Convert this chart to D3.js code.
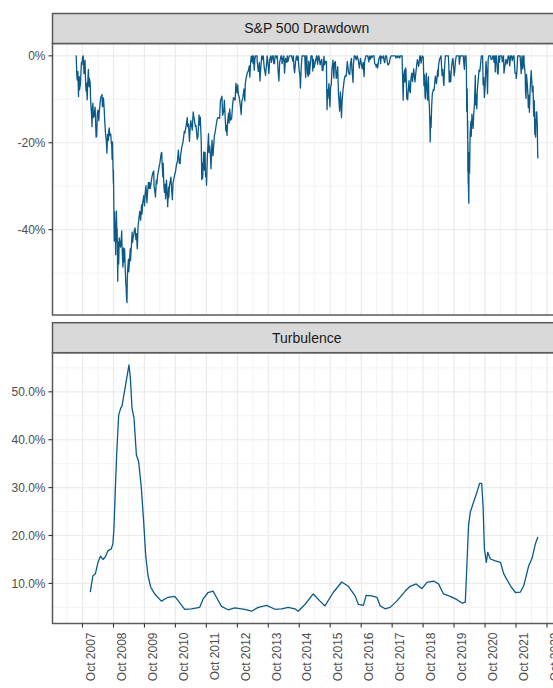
<!DOCTYPE html>
<html><head><meta charset="utf-8">
<script src="https://cdn.jsdelivr.net/npm/d3@7"></script>
<style>body{margin:0;background:#fff;} svg{display:block;font-family:Arial,"Liberation Sans",sans-serif;}</style>
</head><body><svg id="c" width="553" height="688"></svg>
<script>
// ---- Data (S&P 500 drawdown from running peak, %), [month-day, value] per year ----
const dd2007 = [["07-12",0],["07-19",0],["07-26",-4.5],["08-01",-5.6],["08-08",-3.6],["08-15",-9.4],["08-17",-7.3],["08-24",-4.8],["08-28",-7.8],["09-07",-6.4],["09-11",-4.6],["09-19",-1.5],["09-26",-2.0],["10-01",-0.4],["10-09",0],["10-15",-1.8],["10-19",-4.1],["10-26",-2.4],["10-31",-1.0],["11-07",-6.3],["11-12",-8.1],["11-16",-6.3],["11-26",-10.1],["11-30",-6.8],["12-10",-3.1],["12-17",-7.1],["12-21",-5.2],["12-31",-6.2]];
const dd2008 = [["01-04",-9.7],["01-08",-11.2],["01-15",-13.3],["01-22",-16.3],["01-24",-12.4],["02-01",-10.9],["02-07",-14.2],["02-14",-13.9],["02-27",-11.8],["03-07",-17.2],["03-10",-18.7],["03-14",-17.0],["03-17",-18.5],["03-24",-13.3],["04-01",-12.5],["04-11",-14.9],["04-16",-12.8],["04-25",-11.2],["05-02",-9.7],["05-19",-8.9],["05-23",-11.7],["06-02",-11.5],["06-05",-9.7],["06-13",-12.2],["06-20",-15.2],["06-30",-18.2],["07-08",-19.6],["07-15",-22.4],["07-23",-18.1],["08-01",-19.5],["08-05",-17.5],["08-11",-16.6],["08-20",-18.4],["08-29",-18.0],["09-05",-20.0],["09-10",-20.6],["09-15",-23.8],["09-19",-19.8],["09-29",-29.3],["09-30",-26.3],["10-06",-35.7],["10-10",-42.6],["10-13",-35.9],["10-15",-42.6],["10-20",-38.5],["10-27",-45.8],["10-28",-40.0],["11-04",-35.7],["11-12",-42.9],["11-13",-39.8],["11-20",-51.9],["11-21",-49.2],["11-28",-42.9],["12-01",-47.9],["12-08",-41.9],["12-16",-43.1],["12-23",-44.0],["12-31",-42.3]];
const dd2009 = [["01-06",-40.3],["01-09",-43.5],["01-15",-46.4],["01-20",-48.6],["01-23",-47.3],["01-28",-44.2],["02-02",-47.4],["02-09",-44.4],["02-17",-49.4],["02-23",-52.5],["02-27",-53.2],["03-02",-55.2],["03-09",-56.8],["03-12",-51.9],["03-17",-49.1],["03-26",-46.8],["03-30",-49.7],["04-09",-47.0],["04-17",-44.4],["04-20",-47.1],["05-04",-42.4],["05-08",-40.6],["05-14",-42.9],["05-19",-42.0],["05-26",-41.5],["06-03",-40.2],["06-12",-39.6],["06-22",-42.3],["06-30",-40.9],["07-08",-44.4],["07-10",-43.8],["07-17",-39.4],["07-31",-36.9],["08-07",-35.8],["08-17",-37.8],["08-28",-34.3],["09-02",-36.4],["09-11",-33.8],["09-23",-32.2],["10-02",-34.5],["10-09",-31.8],["10-19",-29.9],["10-30",-33.8],["11-06",-31.6],["11-17",-29.1],["11-27",-30.5],["12-01",-29.2],["12-09",-30.5],["12-18",-29.3],["12-28",-27.9]];
const dd2010 = [["01-08",-26.9],["01-19",-26.5],["01-22",-29.9],["02-05",-31.9],["02-08",-32.5],["02-18",-28.6],["02-25",-29.5],["03-05",-27.5],["03-15",-26.5],["03-26",-25.2],["04-01",-24.7],["04-15",-22.6],["04-23",-22.2],["04-27",-24.5],["05-06",-27.9],["05-10",-24.7],["05-14",-27.4],["05-20",-30.3],["05-25",-31.4],["06-03",-29.5],["06-07",-32.9],["06-18",-28.6],["06-29",-33.0],["07-02",-34.7],["07-13",-30.2],["07-16",-32.6],["07-22",-30.1],["08-09",-27.9],["08-16",-30.3],["08-26",-33.1],["09-03",-29.3],["09-15",-28.1],["09-24",-27.2],["10-01",-26.8],["10-15",-24.9],["10-25",-24.3],["11-05",-21.7],["11-16",-24.7],["11-26",-24.8],["12-01",-22.9],["12-15",-21.1],["12-31",-19.7]];
const dd2011 = [["01-14",-17.4],["01-21",-17.8],["02-01",-16.5],["02-18",-14.2],["02-23",-16.3],["03-04",-15.7],["03-16",-19.7],["03-25",-16.2],["04-01",-14.9],["04-18",-17.1],["04-29",-12.9],["05-06",-14.0],["05-16",-15.1],["05-23",-16.2],["06-01",-16.0],["06-15",-19.2],["06-24",-18.6],["07-07",-13.6],["07-18",-16.0],["07-22",-14.1],["08-02",-19.9],["08-08",-28.5],["08-12",-24.7],["08-19",-28.2],["08-31",-22.1],["09-09",-26.3],["09-16",-22.2],["09-22",-27.8],["09-30",-27.7],["10-03",-29.8],["10-14",-22.9],["10-27",-17.9],["11-01",-22.2],["11-10",-20.8],["11-17",-22.5],["11-25",-26.0],["12-07",-19.4],["12-19",-23.0],["12-30",-19.7]];
const dd2012 = [["01-03",-18.4],["01-13",-17.6],["01-26",-15.8],["02-06",-14.6],["02-15",-14.2],["03-06",-14.4],["03-15",-10.4],["04-02",-9.3],["04-10",-13.7],["04-23",-12.7],["05-01",-10.2],["05-11",-14.4],["05-18",-17.3],["05-25",-16.0],["06-01",-18.3],["06-07",-15.3],["06-19",-13.2],["06-25",-15.5],["07-03",-12.2],["07-12",-14.8],["07-25",-14.5],["08-06",-11.3],["08-16",-9.6],["09-04",-10.2],["09-14",-6.3],["09-26",-8.5],["10-05",-6.7],["10-12",-8.8],["10-25",-9.7],["11-07",-11.8],["11-15",-13.5],["11-23",-10.4],["12-03",-9.9],["12-18",-7.6],["12-28",-10.4]];
const dd2013 = [["01-02",-6.6],["01-11",-5.3],["01-25",-4.0],["02-08",-3.4],["02-19",-2.3],["02-25",-4.9],["03-05",-1.8],["03-14",-0.1],["03-19",-1.3],["03-28",0],["04-05",-1.8],["04-11",0],["04-18",-3.3],["04-25",-0.9],["05-03",0],["05-10",0],["05-21",0],["05-23",-1.3],["06-05",-3.6],["06-11",-2.8],["06-18",-1.5],["06-24",-5.8],["07-03",-3.2],["07-15",0],["07-24",-0.8],["08-02",0],["08-15",-2.9],["08-21",-3.5],["08-30",-4.5],["09-09",-2.0],["09-18",0],["09-26",-1.5],["10-08",-4.1],["10-17",-1.0],["10-29",0],["11-07",-1.5],["11-18",0],["11-27",0],["12-05",-1.8],["12-13",-1.8],["12-20",0],["12-31",0]];
const dd2014 = [["01-08",-0.5],["01-15",0],["01-24",-3.3],["02-03",-5.8],["02-12",-1.5],["02-28",0],["03-07",0],["03-13",-1.8],["03-21",-0.8],["04-02",0],["04-11",-4.0],["04-22",-0.6],["05-07",-1.5],["05-13",0],["05-20",-1.3],["06-06",0],["06-20",0],["07-03",0],["07-17",-1.2],["07-24",0],["07-31",-2.8],["08-07",-3.9],["08-18",-1.5],["08-29",0],["09-10",-1.0],["09-18",0],["09-25",-2.4],["10-01",-3.5],["10-09",-4.5],["10-15",-7.4],["10-24",-2.7],["11-03",0],["11-13",0],["11-26",0],["12-05",0],["12-12",-3.6],["12-16",-5.0],["12-22",0],["12-29",0]];
const dd2015 = [["01-06",-4.1],["01-15",-4.7],["01-22",-1.2],["01-30",-4.2],["02-10",-1.5],["02-17",0],["03-02",0],["03-10",-3.5],["03-18",-0.8],["03-26",-2.7],["04-06",-1.7],["04-24",0],["05-06",-1.9],["05-15",0],["05-21",0],["06-05",-2.1],["06-12",-1.4],["06-23",-0.8],["06-29",-3.4],["07-08",-3.3],["07-20",-0.1],["07-27",-2.1],["08-05",-1.3],["08-18",-1.3],["08-21",-7.5],["08-25",-12.4],["08-31",-7.8],["09-04",-9.8],["09-16",-6.4],["09-28",-11.7],["10-06",-7.1],["10-14",-6.6],["10-22",-3.1],["11-03",-1.0],["11-13",-5.1],["11-20",-1.7],["12-01",-1.3],["12-11",-5.2],["12-14",-5.1],["12-22",-3.8],["12-29",-2.5]];
const dd2016 = [["01-07",-9.0],["01-15",-11.1],["01-20",-12.7],["01-29",-8.3],["02-01",-9.0],["02-11",-14.2],["02-19",-10.4],["03-01",-7.7],["03-15",-5.4],["03-24",-4.6],["04-07",-4.7],["04-20",-1.3],["05-05",-3.9],["05-19",-4.3],["05-27",-1.8],["06-08",-0.6],["06-13",-3.1],["06-27",-6.1],["07-01",-2.1],["07-11",0],["07-22",0],["08-02",-0.9],["08-15",0],["08-26",-0.9],["09-09",-2.8],["09-22",-0.6],["10-04",-2.0],["10-13",-3.0],["10-24",-1.5],["11-04",-4.8],["11-10",-1.3],["11-25",0],["12-07",0],["12-13",0],["12-21",-0.4],["12-30",-1.4]];
const dd2017 = [["01-06",0],["01-18",-0.8],["01-26",0],["02-03",-0.4],["02-15",0],["03-01",0],["03-09",-1.8],["03-21",-2.1],["03-27",-2.6],["04-05",-1.9],["04-13",-2.8],["04-25",-0.9],["05-05",-0.3],["05-16",0],["05-17",-1.8],["05-25",-0.1],["06-09",-0.5],["06-19",0],["06-29",-1.3],["07-06",-1.6],["07-14",0],["07-26",0],["08-10",-2.0],["08-18",-2.1],["08-29",-1.6],["09-08",-0.5],["09-20",0],["10-05",0],["10-18",0],["10-31",0],["11-08",0],["11-15",-0.5],["11-28",0],["12-06",-0.4],["12-18",0],["12-29",-0.5]];
const dd2018 = [["01-05",0],["01-12",0],["01-26",0],["02-02",-5.5],["02-05",-7.8],["02-08",-10.2],["02-09",-8.8],["02-16",-4.4],["02-26",-3.2],["03-02",-6.0],["03-09",-2.8],["03-13",-3.3],["03-23",-9.9],["03-28",-9.3],["04-02",-10.1],["04-06",-8.6],["04-18",-5.7],["04-24",-8.0],["05-03",-8.5],["05-10",-5.4],["05-21",-4.0],["05-29",-5.9],["06-12",-3.0],["06-27",-6.0],["07-09",-3.6],["07-25",-0.9],["08-10",-2.4],["08-24",0],["08-29",0],["09-07",-1.7],["09-20",0],["10-03",-0.3],["10-11",-6.9],["10-17",-4.4],["10-24",-9.4],["10-29",-9.9],["11-07",-4.0],["11-20",-8.7],["11-23",-10.2],["12-03",-4.8],["12-07",-9.4],["12-14",-11.5],["12-20",-15.7],["12-24",-19.8],["12-26",-15.6],["12-31",-14.0]];
const dd2019 = [["01-03",-16.5],["01-10",-11.6],["01-18",-8.7],["01-31",-7.7],["02-08",-7.9],["02-22",-4.7],["03-08",-6.4],["03-21",-3.3],["03-27",-4.7],["04-01",-2.2],["04-12",-0.9],["04-30",0],["05-07",-2.5],["05-13",-4.5],["05-21",-3.1],["05-31",-6.5],["06-03",-6.8],["06-10",-3.3],["06-20",0],["07-03",0],["07-15",0],["07-26",0],["08-01",-2.7],["08-05",-6.0],["08-09",-3.5],["08-14",-6.0],["08-23",-5.9],["08-30",-3.2],["09-12",-0.8],["09-19",-0.6],["10-02",-4.6],["10-09",-3.5],["10-18",-1.2],["10-28",0],["11-08",0],["11-27",0],["12-03",-1.9],["12-13",0],["12-27",0]];
const dd2020 = [["01-06",0],["01-17",0],["01-27",-2.2],["01-31",-3.1],["02-06",0],["02-19",0],["02-24",-3.4],["02-27",-12.0],["02-28",-12.8],["03-04",-7.6],["03-09",-18.9],["03-10",-14.9],["03-12",-26.7],["03-13",-19.9],["03-16",-29.5],["03-17",-25.3],["03-18",-28.9],["03-23",-33.9],["03-26",-22.3],["04-01",-27.0],["04-08",-17.7],["04-17",-15.1],["04-21",-18.5],["04-29",-13.4],["05-13",-16.7],["05-20",-13.5],["05-29",-10.9],["06-08",-4.5],["06-11",-11.3],["06-19",-8.8],["06-26",-12.2],["07-01",-8.0],["07-13",-5.3],["07-22",-3.3],["07-31",-3.6],["08-12",-1.4],["08-18",0],["08-28",0],["09-02",0],["09-08",-6.7],["09-16",-5.0],["09-23",-9.6],["10-02",-6.9],["10-12",-1.3],["10-22",-3.8],["10-30",-8.7],["11-06",-1.0],["11-13",0],["11-25",0],["12-04",0],["12-11",-0.8],["12-21",-0.8],["12-31",0]];
const dd2021 = [["01-08",0],["01-15",-1.5],["01-25",0],["01-29",-3.7],["02-05",0],["02-12",0],["02-25",-4.0],["03-04",-4.2],["03-11",0],["03-18",-1.5],["03-26",0],["04-09",0],["04-16",0],["04-22",-1.4],["05-07",0],["05-12",-4.0],["05-19",-2.9],["06-04",-0.8],["06-18",-1.9],["06-30",0],["07-09",0],["07-19",-2.3],["07-29",0],["08-09",0],["08-18",-1.1],["08-30",0],["09-07",0],["09-20",-4.0],["09-30",-4.0],["10-04",-5.2],["10-13",-3.2],["10-21",0],["10-29",0],["11-05",0],["11-18",0],["11-26",-2.3],["12-01",-4.1],["12-10",0],["12-20",-3.0],["12-29",0]];
const dd2022 = [["01-03",0],["01-05",-1.9],["01-13",-3.3],["01-18",-4.6],["01-21",-8.3],["01-27",-9.8],["02-02",-4.3],["02-10",-6.3],["02-18",-8.8],["02-23",-11.9],["03-01",-9.1],["03-08",-13.0],["03-16",-7.9],["03-29",-3.4],["04-06",-6.2],["04-11",-8.3],["04-20",-7.0],["04-26",-13.0],["04-29",-13.9],["05-04",-10.3],["05-09",-16.6],["05-12",-18.1],["05-17",-14.8],["05-20",-18.7],["05-27",-12.9],["06-02",-12.9],["06-09",-15.8],["06-13",-21.8],["06-16",-23.6]];

// ---- Turbulence (%), [date, value] ----
const turbulence = [["2008-01-01",8.2],["2008-01-19",10.2],["2008-02-01",11.6],["2008-03-01",12.0],["2008-04-01",14.4],["2008-05-01",15.7],["2008-05-30",15.0],["2008-06-26",15.5],["2008-07-27",16.8],["2008-09-05",17.2],["2008-09-24",18.3],["2008-10-06",21.4],["2008-10-23",29.8],["2008-11-07",36.8],["2008-12-01",45.2],["2008-12-25",46.6],["2009-01-09",47.0],["2009-01-25",48.7],["2009-02-21",51.5],["2009-03-13",53.6],["2009-04-01",55.6],["2009-04-18",52.9],["2009-05-07",46.6],["2009-05-31",44.5],["2009-06-28",36.8],["2009-07-25",35.4],["2009-08-26",29.8],["2009-09-22",22.8],["2009-10-16",15.8],["2009-11-12",11.6],["2009-12-14",9.2],["2010-01-30",7.8],["2010-04-19",6.3],["2010-07-05",7.1],["2010-09-23",7.3],["2010-11-21",6.0],["2011-01-19",4.6],["2011-04-09",4.7],["2011-07-15",5.0],["2011-08-23",6.7],["2011-10-21",8.1],["2011-12-19",8.4],["2012-01-28",7.1],["2012-03-27",5.2],["2012-06-14",4.5],["2012-09-01",4.9],["2012-12-28",4.6],["2013-03-17",4.2],["2013-06-04",5.0],["2013-09-11",5.4],["2013-12-18",4.6],["2014-03-07",4.7],["2014-05-24",5.0],["2014-08-11",4.7],["2014-09-19",4.2],["2014-12-07",5.6],["2015-03-15",7.8],["2015-06-03",6.3],["2015-07-31",5.3],["2015-11-06",8.1],["2016-02-14",10.3],["2016-05-02",9.4],["2016-07-21",7.4],["2016-08-29",5.6],["2016-10-27",5.4],["2016-11-28",7.5],["2017-02-04",7.4],["2017-04-04",7.1],["2017-05-13",5.3],["2017-07-10",4.7],["2017-09-07",5.0],["2017-11-25",6.3],["2018-03-04",8.4],["2018-05-02",9.4],["2018-07-12",9.9],["2018-09-17",8.9],["2018-11-15",10.2],["2019-02-01",10.5],["2019-04-01",9.9],["2019-05-30",7.8],["2019-08-17",7.3],["2019-11-05",6.6],["2020-01-03",5.9],["2020-02-11",6.1],["2020-03-02",14.4],["2020-03-20",22.1],["2020-04-10",24.9],["2020-05-19",27.0],["2020-06-28",29.1],["2020-07-29",30.9],["2020-08-22",30.9],["2020-09-07",26.3],["2020-09-23",17.2],["2020-10-16",14.4],["2020-11-01",16.5],["2020-12-03",15.1],["2021-01-31",14.7],["2021-04-01",14.4],["2021-05-09",12.0],["2021-07-27",9.5],["2021-09-24",8.1],["2021-11-22",8.2],["2021-12-31",9.5],["2022-02-28",13.7],["2022-04-09",15.3],["2022-05-18",18.3],["2022-06-16",19.7]];

const stripLabels = ["S&P 500 Drawdown", "Turbulence"];
const ddTicks = [0, -20, -40];
const ddMinor = [-10, -30, -50];
const turbTicks = [10, 20, 30, 40, 50];
const turbMinor = [5, 15, 25, 35, 45, 55];
const tickYears = d3.range(2007, 2023);      // Oct ticks
const minorYears = d3.range(2007, 2024);     // Apr minor grid

// ---- Build ----
const parse = d3.timeParse("%Y-%m-%d");
const ddByYear = {2007:dd2007,2008:dd2008,2009:dd2009,2010:dd2010,2011:dd2011,2012:dd2012,2013:dd2013,2014:dd2014,2015:dd2015,2016:dd2016,2017:dd2017,2018:dd2018,2019:dd2019,2020:dd2020,2021:dd2021,2022:dd2022};
const drawdown = [];
Object.keys(ddByYear).forEach(y => ddByYear[y].forEach(([md, v]) => drawdown.push({date: parse(y + "-" + md), value: v})));
drawdown.sort((a, b) => a.date - b.date);
const turb = turbulence.map(([d, v]) => ({date: parse(d), value: v}));

const svg = d3.select("#c");
const L = 52.5, R = 561;
const P1 = {top: 43.5, bottom: 315, stripTop: 13.5};
const P2 = {top: 352.7, bottom: 623.5, stripTop: 322.7};
const lineColor = "#0b5a87";
const borderColor = "#5a5a5a";

function expand(ext, f = 0.05) { const s = ext[1] - ext[0]; return [ext[0] - s * f, ext[1] + s * f]; }
const xExt = d3.extent(drawdown, d => d.date);
const xs = xExt[1] - xExt[0];
const x = d3.scaleTime().domain([new Date(+xExt[0] - xs * 0.05), new Date(+xExt[1] + xs * 0.05)]).range([L, R]);
const y1 = d3.scaleLinear().domain(expand(d3.extent(drawdown, d => d.value))).range([P1.bottom, P1.top]);
const y2 = d3.scaleLinear().domain(expand(d3.extent(turb, d => d.value))).range([P2.bottom, P2.top]);

const majorDates = tickYears.map(y => new Date(y, 9, 1));
const minorDates = minorYears.map(y => new Date(y, 3, 1)).filter(d => x(d) >= L && x(d) <= R);

function panel(P, y, major, minor, data, label, fmt, lw) {
  const g = svg.append("g");
  g.append("rect").attr("x", L).attr("y", P.top).attr("width", R - L).attr("height", P.bottom - P.top).attr("fill", "#fff");
  g.selectAll(null).data(minor).join("line").attr("x1", L).attr("x2", R).attr("y1", d => y(d)).attr("y2", d => y(d)).attr("stroke", "#f2f2f2").attr("stroke-width", 0.9);
  g.selectAll(null).data(minorDates).join("line").attr("y1", P.top).attr("y2", P.bottom).attr("x1", d => x(d)).attr("x2", d => x(d)).attr("stroke", "#f2f2f2").attr("stroke-width", 0.9);
  g.selectAll(null).data(major).join("line").attr("x1", L).attr("x2", R).attr("y1", d => y(d)).attr("y2", d => y(d)).attr("stroke", "#ebebeb").attr("stroke-width", 1.2);
  g.selectAll(null).data(majorDates).join("line").attr("y1", P.top).attr("y2", P.bottom).attr("x1", d => x(d)).attr("x2", d => x(d)).attr("stroke", "#ebebeb").attr("stroke-width", 1.2);
  g.append("path").datum(data).attr("fill", "none").attr("stroke", lineColor).attr("stroke-width", lw).attr("stroke-linejoin", "round")
    .attr("d", d3.line().x(d => x(d.date)).y(d => y(d.value)));
  g.append("rect").attr("x", L).attr("y", P.top).attr("width", R - L).attr("height", P.bottom - P.top).attr("fill", "none").attr("stroke", borderColor).attr("stroke-width", 1.5);
  g.append("rect").attr("x", L).attr("y", P.stripTop).attr("width", R - L).attr("height", P.top - P.stripTop).attr("fill", "#d9d9d9").attr("stroke", borderColor).attr("stroke-width", 1.5);
  g.append("text").attr("x", (L + R) / 2).attr("y", (P.stripTop + P.top) / 2).attr("dy", "0.35em").attr("text-anchor", "middle")
    .attr("font-size", 14).attr("fill", "#1a1a1a").text(label);
  g.selectAll(null).data(major).join("line").attr("x1", L - 4).attr("x2", L).attr("y1", d => y(d)).attr("y2", d => y(d)).attr("stroke", "#333").attr("stroke-width", 1.1);
  g.selectAll(null).data(major).join("text").attr("x", L - 7).attr("y", d => y(d)).attr("dy", "0.35em").attr("text-anchor", "end")
    .attr("font-size", 12).attr("fill", "#4d4d4d").text(fmt);
}
panel(P1, y1, ddTicks, ddMinor, drawdown, stripLabels[0], d => d + "%", 1.3);
panel(P2, y2, turbTicks, turbMinor, turb, stripLabels[1], d => d.toFixed(1) + "%", 1.3);

// x axis
const fmtX = d3.timeFormat("%b %Y");
const ax = svg.append("g");
ax.selectAll(null).data(majorDates).join("line").attr("x1", d => x(d)).attr("x2", d => x(d)).attr("y1", P2.bottom).attr("y2", P2.bottom + 4).attr("stroke", "#333").attr("stroke-width", 1.1);
ax.selectAll(null).data(majorDates).join("text")
  .attr("transform", d => `translate(${x(d) + 8},${P2.bottom + 9}) rotate(-90)`)
  .attr("dy", "0.35em").attr("text-anchor", "end").attr("font-size", 12).attr("fill", "#4d4d4d").text(fmtX);
</script></body></html>
